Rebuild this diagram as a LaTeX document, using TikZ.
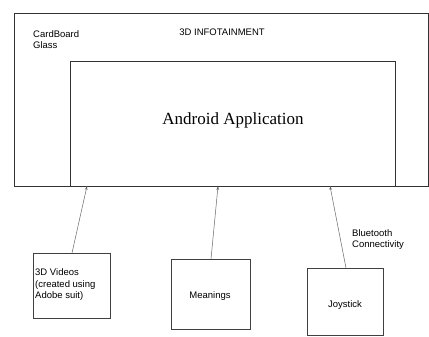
\documentclass[tikz,border=0pt]{standalone}
\usepackage{fontspec}
\setmainfont{Liberation Sans}
\newfontfamily\serifface{Liberation Serif}
\usetikzlibrary{arrows.meta}
\begin{document}
\begin{tikzpicture}[x=1pt,y=-1pt,
  frame/.style={draw=black!80,line width=0.7pt},
  smallbox/.style={draw=black!75,line width=0.6pt},
  conn/.style={draw=black!60,line width=0.5pt,-{Stealth[length=4pt,width=2.5pt]}},
  lbl/.style={font=\fontsize{9.5}{11.5}\selectfont,inner sep=0pt}]
\useasboundingbox[fill=white] (0,0) rectangle (429,337);
% outer and inner boxes
\draw[frame] (14,13) rectangle (428,186);
\draw[frame] (70,61) rectangle (395,186);
\node[lbl] (title) at (222,32) {3D INFOTAINMENT};
\node[lbl,anchor=north west,align=left] (glass) at (33,30) {CardBoard\\Glass};
\node[inner sep=0pt,font=\serifface\fontsize{17}{20}\selectfont] (app) at (233,120) {Android Application};
% bottom attachment points
\coordinate (p1) at (87,186);
\coordinate (p2) at (218,186);
\coordinate (p3) at (330,186);
% small boxes
\draw[smallbox] (33,253) rectangle (110,318);
\node[lbl,anchor=west,align=left] (videos) at (35,285) {3D Videos\\(created using\\Adobe suit)};
\coordinate (b1) at (72,253);
\draw[smallbox] (171,259) rectangle (250,329);
\node[lbl] (mean) at (210,296) {Meanings};
\coordinate (b2) at (211,259);
\draw[smallbox] (307,268) rectangle (383,335);
\node[lbl] (joy) at (345,305) {Joystick};
\coordinate (b3) at (346,268);
% connectors
\draw[conn] (b1) -- (p1);
\draw[conn] (b2) -- (p2);
\draw[conn] (b3) -- (p3);
\node[lbl,anchor=north west,align=left] (bt) at (352,229) {Bluetooth\\Connectivity};
\end{tikzpicture}
\end{document}
